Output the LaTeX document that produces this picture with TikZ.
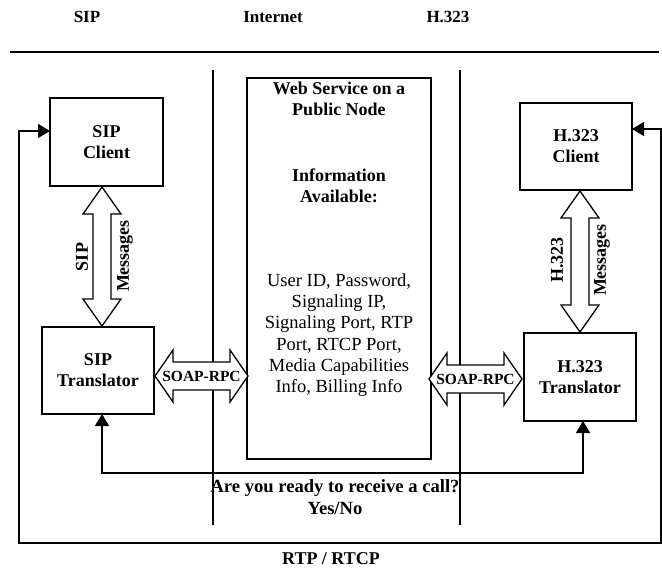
\documentclass[tikz,border=0pt]{standalone}
\usepackage{fontspec}
\setmainfont{Liberation Serif}
\usetikzlibrary{arrows.meta}
\newcommand{\vblock}[3]{%
  \draw[blockarrow] (#1,#2) -- (#1+19,#2+27) -- (#1+9,#2+27) -- (#1+9,#3-27) -- (#1+19,#3-27)
    -- (#1,#3) -- (#1-19,#3-27) -- (#1-9,#3-27) -- (#1-9,#2+27) -- (#1-19,#2+27) -- cycle;}
\newcommand{\hblock}[3]{%
  \draw[blockarrow] (#1,#3) -- (#1+18,#3-26) -- (#1+18,#3-14) -- (#2-18,#3-14) -- (#2-18,#3-26)
    -- (#2,#3) -- (#2-18,#3+26) -- (#2-18,#3+14) -- (#1+18,#3+14) -- (#1+18,#3+26) -- cycle;}
\begin{document}
\begin{tikzpicture}[x=1pt,y=-1pt,
  box/.style={draw, line width=1.3pt, inner sep=0pt, align=center,
    font=\fontsize{18}{21}\selectfont\bfseries},
  lbl/.style={inner sep=0pt, align=center, font=\fontsize{18}{21}\selectfont\bfseries},
  qlbl/.style={inner sep=0pt, align=center, font=\fontsize{18.6}{21.5}\selectfont\bfseries},
  hdr/.style={inner sep=0pt, font=\fontsize{17}{20}\selectfont\bfseries},
  body/.style={inner sep=0pt, align=center, font=\fontsize{18.5}{21.3}\selectfont},
  soap/.style={inner sep=0pt, font=\fontsize{15.5}{18}\selectfont\bfseries},
  blockarrow/.style={draw, line width=1.3pt, fill=white, line join=miter},
  wire/.style={line width=1.3pt}
]
\useasboundingbox (0,0) rectangle (662,573);

% headers
\node[hdr] (hsip) at (87,17) {SIP};
\node[hdr] (hint) at (273,17) {Internet};
\node[hdr] (hh) at (448,17) {H.323};
\coordinate (r1) at (10,52);
\coordinate (r2) at (659,52);
\draw[line width=1.8pt] (r1) -- (r2);

% zone separators
\coordinate (va1) at (213,70);
\coordinate (va2) at (213,525);
\coordinate (vb1) at (460,70);
\coordinate (vb2) at (460,525);
\draw[wire] (va1) -- (va2);
\draw[wire] (vb1) -- (vb2);

% boxes
\node[box, minimum width=113pt, minimum height=88pt] (sipc) at (106.5,142) {SIP\\Client};
\node[box, minimum width=112pt, minimum height=87pt] (sipt) at (98,370.5) {SIP\\Translator};
\node[box, minimum width=112pt, minimum height=87pt] (hc) at (576,146.5) {H.323\\Client};
\node[box, minimum width=112pt, minimum height=88pt] (ht) at (580,377) {H.323\\Translator};
\node[draw, line width=1.3pt, minimum width=184pt, minimum height=381pt, inner sep=0pt] (web) at (339,268.5) {};

% web text
\node[lbl] (wt1) at (339,99) {Web Service on a\\Public Node};
\node[lbl] (wt2) at (339,185.5) {Information\\Available:};
\node[body] (wt3) at (339,335) {User ID, Password,\\Signaling IP,\\Signaling Port, RTP\\Port, RTCP Port,\\Media Capabilities\\Info, Billing Info};

% block arrows
\vblock{102}{187}{326}
\vblock{580}{191}{332}
\hblock{155}{248}{376}
\hblock{429}{522}{379}
\node[soap] (s1) at (201.5,376) {SOAP-RPC};
\node[soap] (s2) at (475.5,379) {SOAP-RPC};

\node[lbl, rotate=90] (m1a) at (82,257) {SIP};
\node[lbl, rotate=90] (m1b) at (125,256) {Messages};
\node[lbl, rotate=90] (m2a) at (557,260) {H.323};
\node[lbl, rotate=90] (m2b) at (602,260) {Messages};

% handshake line
\coordinate (fa) at (102,414);
\coordinate (fb) at (583,421);
\draw[wire, {Triangle[length=12pt,width=14pt]}-{Triangle[length=12pt,width=14pt]}]
  (fa) -- (102,473) -- (583,473) -- (fb);
\node[qlbl] (q) at (335,497) {Are you ready to receive a call?\\Yes/No};

% RTP loop
\coordinate (la) at (50,131);
\coordinate (lb) at (632,129);
\draw[wire, {Triangle[length=12pt,width=14pt]}-{Triangle[length=12pt,width=14pt]}]
  (la) -- (19,131) -- (19,543) -- (661,543) -- (661,129) -- (lb);
\node[lbl] (rtp) at (331,559) {RTP / RTCP};
\end{tikzpicture}
\end{document}
